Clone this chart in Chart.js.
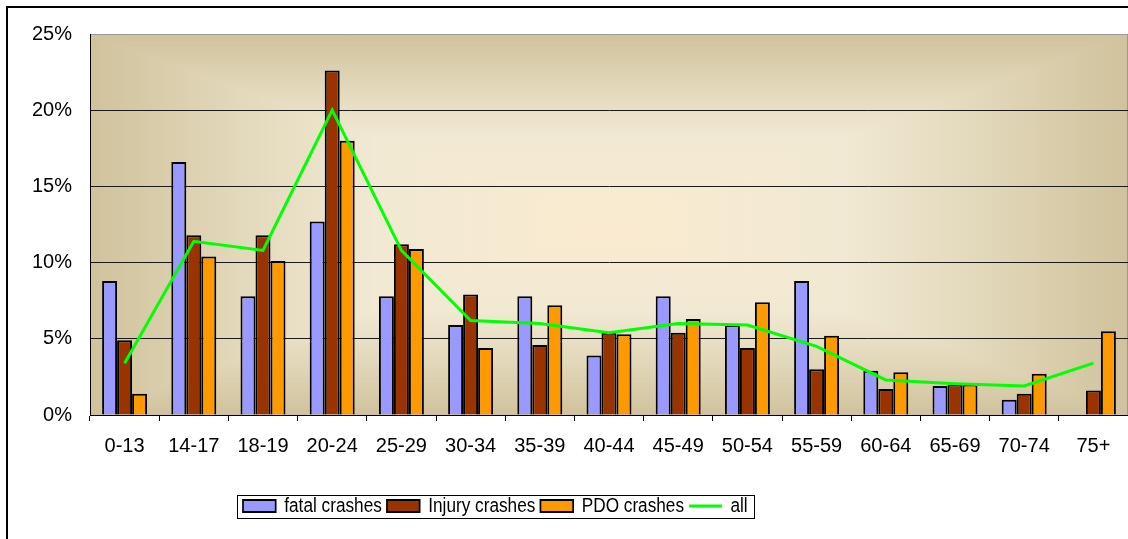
<!DOCTYPE html>
<html>
<head>
<meta charset="utf-8">
<script src="https://cdn.jsdelivr.net/npm/chart.js@4.4.0/dist/chart.umd.min.js"></script>
<style>
  html, body { margin: 0; padding: 0; background: #fff; overflow: hidden; }
  canvas { display: block; }
</style>
</head>
<body>
<canvas id="crashChart" width="1128" height="539"></canvas>
<script>
// share of crashes per driver age group, in percent
const ageGroups = ['0-13', '14-17', '18-19', '20-24', '25-29', '30-34', '35-39', '40-44',
                   '45-49', '50-54', '55-59', '60-64', '65-69', '70-74', '75+'];
const fatalCrashes  = [8.8, 16.6, 7.8, 12.7, 7.8, 5.9, 7.8, 3.9, 7.8, 5.9, 8.8, 2.9, 1.9, 1.0, 0];
const injuryCrashes = [4.9, 11.8, 11.8, 22.6, 11.2, 7.9, 4.6, 5.4, 5.4, 4.4, 3.0, 1.7, 2.0, 1.4, 1.6];
const pdoCrashes    = [1.4, 10.4, 10.1, 18.0, 10.9, 4.4, 7.2, 5.3, 6.3, 7.4, 5.2, 2.8, 2.0, 2.7, 5.5];
const allCrashes    = [3.4, 11.4, 10.8, 20.0, 10.8, 6.2, 6.0, 5.4, 6.0, 5.9, 4.5, 2.3, 2.05, 1.9, 3.4];
const yMax = 25;
const yStep = 5;

const FONT = 'Liberation Sans, Arial, sans-serif';
const LEGEND_SIZE = 20;
const LEGEND_SQUEEZE = 0.86;   // original legend text is narrow
const LEGEND_X = 243;

// excel-like "from center" gradient in the plot area
const plotBackground = {
  id: 'plotBackground',
  beforeDraw(chart) {
    const { ctx, chartArea: a } = chart;
    const cx = (a.left + a.right) / 2, cy = (a.top + a.bottom) / 2;
    const stops = [[0, '#D0C29C'], [0.3, '#E3D9BC'], [0.55, '#F1E9D3'], [1, '#FAEBCF']];
    ctx.save();
    // left/right part over the whole area
    const gh = ctx.createLinearGradient(a.left, 0, a.right, 0);
    stops.forEach(s => gh.addColorStop(s[0] / 2, s[1]));
    stops.slice().reverse().forEach(s => gh.addColorStop(1 - s[0] / 2, s[1]));
    ctx.fillStyle = gh;
    ctx.fillRect(a.left, a.top, a.right - a.left, a.bottom - a.top);
    // top and bottom triangles
    const parts = [
      [[a.left, a.top], [a.right, a.top], [cx, a.top]],
      [[a.right, a.bottom], [a.left, a.bottom], [cx, a.bottom]]
    ];
    parts.forEach(([p1, p2, e]) => {
      const g = ctx.createLinearGradient(e[0], e[1], cx, cy);
      stops.forEach(s => g.addColorStop(s[0], s[1]));
      ctx.fillStyle = g;
      ctx.beginPath();
      ctx.moveTo(p1[0], p1[1]);
      ctx.lineTo(p2[0], p2[1]);
      ctx.lineTo(cx, cy);
      ctx.closePath();
      ctx.fill();
    });
    ctx.strokeStyle = '#9a9a9a';
    ctx.lineWidth = 1;
    ctx.beginPath();
    ctx.moveTo(a.right - 0.5, a.top);
    ctx.lineTo(a.right - 0.5, a.bottom);
    ctx.stroke();
    ctx.restore();
  }
};

// move legend left like in the original, squeeze it and put a frame round it
const legendFrame = {
  id: 'legendFrame',
  afterLayout(chart) {
    const lg = chart.legend;
    const pad = lg.options.labels.padding;
    const start = (lg.left + pad + lg.right - lg.lineWidths[0]) / 2;
    const dx = LEGEND_X - start;
    lg.left += dx;
    lg.right += dx;
    if (!lg._squeezed) {
      const orig = lg.draw.bind(lg);
      lg.draw = function (area) {
        const c = chart.ctx;
        c.save();
        c.translate(LEGEND_X, 0);
        c.scale(LEGEND_SQUEEZE, 1);
        c.translate(-LEGEND_X, 0);
        orig(area);
        c.restore();
      };
      lg._squeezed = true;
    }
  },
  afterDraw(chart) {
    const { ctx } = chart;
    const lg = chart.legend;
    const pad = lg.options.labels.padding;
    const w = (lg.lineWidths[0] - pad) * LEGEND_SQUEEZE;
    const yc = lg.top + pad + LEGEND_SIZE / 2;
    ctx.save();
    ctx.strokeStyle = '#000';
    ctx.lineWidth = 1;
    ctx.strokeRect(LEGEND_X - 6 + 0.5, Math.round(yc - 11.5) + 0.5, Math.round(w + 12), 23);
    // outer chart frame (only left and top are inside the picture)
    ctx.fillStyle = '#000';
    ctx.fillRect(6, 6, 2, chart.height);
    ctx.fillRect(6, 6, chart.width, 2);
    ctx.restore();
  }
};

const ctx = document.getElementById('crashChart').getContext('2d');
const crashChart = new Chart(ctx, {
  type: 'bar',
  data: {
    labels: ageGroups,
    datasets: [
      { label: 'fatal crashes', data: fatalCrashes, backgroundColor: '#9999FF', borderColor: '#000', borderWidth: 2, order: 1 },
      { label: 'Injury crashes', data: injuryCrashes, backgroundColor: '#993300', borderColor: '#000', borderWidth: 2, order: 1 },
      { label: 'PDO crashes', data: pdoCrashes, backgroundColor: '#FF9900', borderColor: '#000', borderWidth: 2, order: 1 },
      { type: 'line', label: 'all', data: allCrashes, borderColor: '#00FF00', backgroundColor: '#00FF00',
        borderWidth: 3, pointRadius: 0, tension: 0, fill: false, order: 0 }
    ]
  },
  options: {
    responsive: false,
    animation: false,
    events: [],
    datasets: { bar: { barPercentage: 1, categoryPercentage: 0.65 } },
    layout: { padding: { top: 34, left: 0, right: 0, bottom: 13 } },
    scales: {
      x: {
        grid: { drawOnChartArea: false, offset: true, tickLength: 6, color: '#000' },
        border: { color: '#000', width: 1 },
        ticks: { color: '#000', font: { family: FONT, size: 20 }, padding: 13, maxRotation: 0, autoSkip: false },
        afterFit(scale) { scale.height = 75; }
      },
      y: {
        min: 0,
        max: yMax,
        ticks: { stepSize: yStep, color: '#000', font: { family: FONT, size: 20 }, padding: 18,
                 callback: v => v + '%' },
        grid: { drawTicks: false, color: c => c.tick && c.tick.value === yMax ? '#9a9a9a' : '#1a1a1a', lineWidth: 1 },
        border: { color: '#000', width: 1 },
        afterFit(scale) { scale.width = 90; }
      }
    },
    plugins: {
      tooltip: { enabled: false },
      legend: {
        position: 'bottom',
        labels: {
          color: '#000',
          font: { family: FONT, size: LEGEND_SIZE },
          padding: 6,
          usePointStyle: true,
          pointStyleWidth: 38,
          boxHeight: 12,
          sort: (a, b) => a.datasetIndex - b.datasetIndex,
          generateLabels(chart) {
            const items = Chart.defaults.plugins.legend.labels.generateLabels(chart);
            items.forEach(it => {
              it.pointStyle = chart.data.datasets[it.datasetIndex].type === 'line' ? 'line' : 'rect';
            });
            return items;
          }
        }
      }
    }
  },
  plugins: [plotBackground, legendFrame]
});
</script>
</body>
</html>
